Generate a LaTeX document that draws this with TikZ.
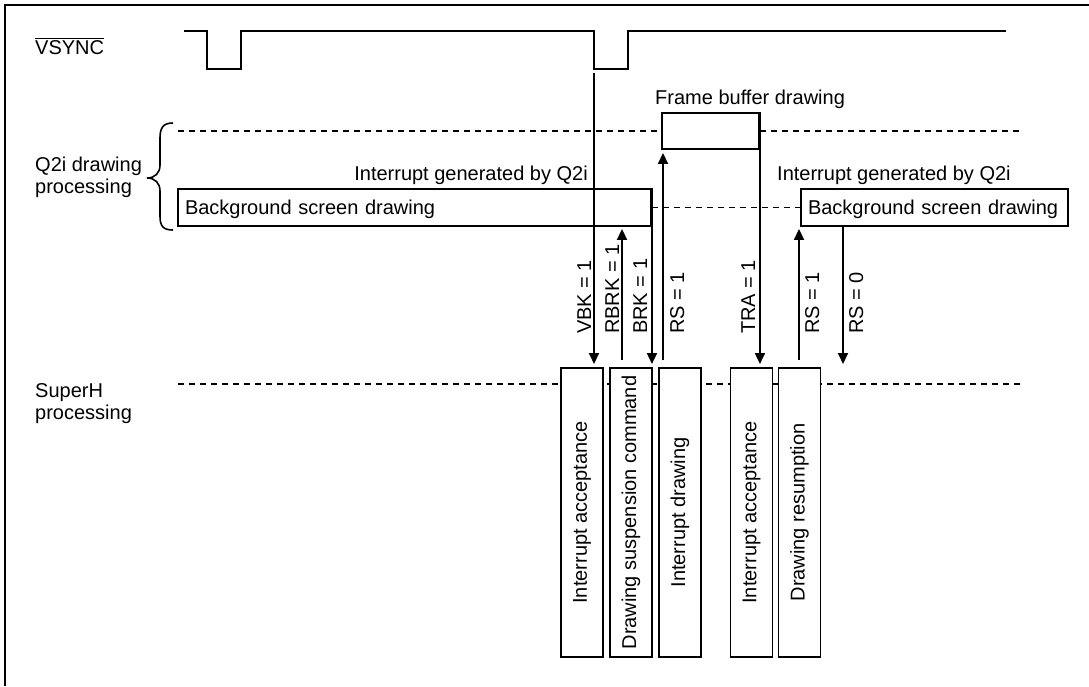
\documentclass[tikz,border=0pt]{standalone}
\usepackage{fontspec}
\setmainfont{Liberation Sans}
\usetikzlibrary{arrows.meta}
\begin{document}
\begin{tikzpicture}[x=1pt,y=-1pt,
  every node/.style={font=\fontsize{20}{22}\selectfont, inner sep=0pt},
  ln/.style={line width=1.9pt},
  dsh/.style={line width=1.9pt, dash pattern=on 6pt off 5pt},
  arr/.style={line width=1.9pt, -{Triangle[length=11pt,width=10pt]}},
  box/.style={draw, line width=1.9pt, fill=white},
  bgbox/.style={box, minimum height=37pt, inner xsep=7pt, align=left, text height=14.3pt, text depth=0pt},
  shbox/.style={box, rotate=90, minimum width=289pt, minimum height=42pt},
  lbl/.style={rotate=90, anchor=base west},
]
\useasboundingbox (0,0) rectangle (1089,686);
% frame (top and left edges visible)
\draw[line width=2.8pt] (5,686) -- (5,5) -- (1089,5);

% VSYNC
\node[anchor=base west] (vsynclbl) at (35,54) {$\overline{\mbox{VSYNC}}$};
\draw[ln] (184,31) -- (207,31) -- (207,69) -- (241,69) -- (241,31) -- (594,31)
  -- (594,69) coordinate (f2) -- (628,69) -- (628,31) -- (1006,31);

% Q2i row
\node[anchor=base west, align=left] (q2ilbl) at (35,193) {Q2i drawing\\processing};
\draw[line width=1.6pt] (173,123) .. controls (163,123) and (160,128) .. (160,138) -- (160,165)
  .. controls (160,173) and (155,178) .. (147,178)
  .. controls (155,178) and (160,183) .. (160,191) -- (160,216)
  .. controls (160,226) and (163,230) .. (173,230);

\node[box, minimum width=97pt, minimum height=36pt] (fb) at (710.5,131) {};
\draw[dsh] (178,131) -- (fb.west);
\draw[dsh] (fb.east) -- (1020,131);
\node[anchor=base west] (fblbl) at (655,104) {Frame buffer drawing};

\node[bgbox, text width=459pt] (bg1) at (414.5,207.5) {Background screen drawing};
\node[bgbox, text width=253pt] (bg2) at (934.5,207.5) {Background screen drawing};
\draw[dsh] (bg1.east) -- (bg2.west);
\node[anchor=base east] (int1) at (588,180) {Interrupt generated by Q2i};
\node[anchor=base west] (int2) at (777,180) {Interrupt generated by Q2i};

% SuperH row
\node[anchor=base west, align=left] (shlbl) at (35,419) {SuperH\\processing};
\draw[dsh] (178,384) -- (1023,384);
\node[shbox] (sh1) at (582,512.5) {Interrupt acceptance};
\node[shbox] (sh2) at (631,512.5) {Drawing suspension command};
\node[shbox] (sh3) at (680,512.5) {Interrupt drawing};
\node[shbox] (sh4) at (751.5,512.5) {Interrupt acceptance};
\node[shbox] (sh5) at (799.5,512.5) {Drawing resumption};

% connectors
\coordinate (shtop) at (0,364);
\coordinate (rbrk) at (622,360);
\coordinate (rs1a) at (663,360);
\coordinate (rs1b) at (799,360);
\coordinate (rs0) at (843,226);
\draw[arr, shorten <=4pt] (f2) -- (f2 |- shtop);
\draw[arr, shorten >=2pt] (rbrk) -- (rbrk |- bg1.south);
\draw[arr] (bg1.north east) -- (bg1.north east |- shtop);
\draw[arr, shorten >=3pt] (rs1a) -- (rs1a |- fb.south);
\draw[arr] (fb.north east) -- (fb.north east |- shtop);
\draw[arr, shorten >=2pt] (rs1b) -- (rs1b |- bg2.south);
\draw[arr] (rs0) -- (rs0 |- shtop);

% connector labels
\node[lbl] (l1) at (591,334) {VBK = 1};
\node[lbl] (l2) at (619,334) {RBRK = 1};
\node[lbl] (l3) at (647,334) {BRK = 1};
\node[lbl] (l4) at (684,334) {RS = 1};
\node[lbl] (l5) at (755,334) {TRA = 1};
\node[lbl] (l6) at (819,334) {RS = 1};
\node[lbl] (l7) at (863,334) {RS = 0};
\end{tikzpicture}
\end{document}
